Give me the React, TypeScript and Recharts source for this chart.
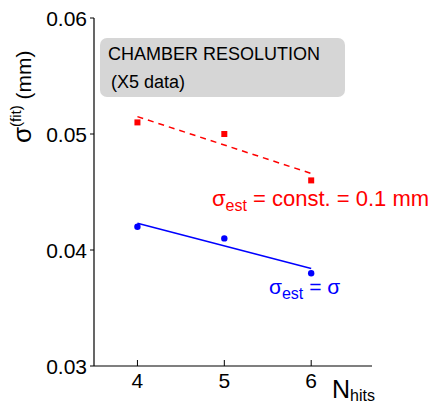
import React from "react";
import { ComposedChart, XAxis, YAxis, Scatter, Line } from "recharts";

// N_hits on the x axis
const nHits = [4, 5, 6];
// sigma_fit (mm) with sigma_est = const. = 0.1 mm
const sigmaConst = [0.051, 0.05, 0.046];
// sigma_fit (mm) with sigma_est = sigma
const sigmaEst = [0.042, 0.041, 0.038];
// straight-line fits, evaluated at the first and last N_hits
const fitX = [4, 6];
const fitConst = [0.0515, 0.0466];
const fitEst = [0.0423, 0.0384];
const yTicks = [0.03, 0.04, 0.05, 0.06];

const FONT = "'Liberation Sans', Arial, Helvetica, sans-serif";
const RED = "#ff0000";
const BLUE = "#0000ff";

const constPts = nHits.map((x, i) => ({ x, y: sigmaConst[i] }));
const estPts = nHits.map((x, i) => ({ x, y: sigmaEst[i] }));
const constFit = fitX.map((x, i) => ({ x, y: fitConst[i] }));
const estFit = fitX.map((x, i) => ({ x, y: fitEst[i] }));

const XTick = (props: any) => {
  const { x, y, payload } = props;
  return (
    <g>
      <line x1={x} y1={y} x2={x} y2={y - 6} stroke="#000" strokeWidth={1} />
      <text x={x} y={y + 22} textAnchor="middle" fontSize={21} fontFamily={FONT} fill="#000">
        {payload.value}
      </text>
    </g>
  );
};

const YTick = (props: any) => {
  const { x, y, payload } = props;
  return (
    <g>
      <line x1={x - 4} y1={y} x2={x} y2={y} stroke="#000" strokeWidth={1} />
      <text x={x - 7} y={y} dy="0.36em" textAnchor="end" fontSize={21} fontFamily={FONT} fill="#000">
        {Number(payload.value).toFixed(2)}
      </text>
    </g>
  );
};

const Square = (props: any) => {
  const { cx, cy } = props;
  return <rect x={cx - 3} y={cy - 3} width={6} height={6} fill={RED} />;
};

const Dot = (props: any) => {
  const { cx, cy } = props;
  return <circle cx={cx} cy={cy} r={3.2} fill={BLUE} />;
};

export default function App() {
  return (
    <div style={{ position: "absolute", left: 0, top: 0, width: 429, height: 406, background: "#fff" }}>
      <ComposedChart width={429} height={406} margin={{ top: 18, right: 57, bottom: 0, left: 0 }}>
        <XAxis
          type="number"
          dataKey="x"
          domain={[3.5, 6.7]}
          ticks={nHits}
          allowDataOverflow
          height={40}
          tickSize={0}
          tickMargin={0}
          tickLine={false}
          tick={<XTick />}
          axisLine={{ stroke: "#000", strokeWidth: 1.2 }}
        />
        <YAxis
          type="number"
          dataKey="y"
          domain={[0.03, 0.06]}
          ticks={yTicks}
          allowDataOverflow
          width={94}
          tickSize={0}
          tickMargin={0}
          tickLine={false}
          tick={<YTick />}
          axisLine={{ stroke: "#000", strokeWidth: 1.2 }}
        />
        <Line
          data={constFit}
          dataKey="y"
          stroke={RED}
          strokeWidth={1.5}
          strokeDasharray="6 5"
          dot={false}
          activeDot={false}
          isAnimationActive={false}
        />
        <Line
          data={estFit}
          dataKey="y"
          stroke={BLUE}
          strokeWidth={1.5}
          dot={false}
          activeDot={false}
          isAnimationActive={false}
        />
        <Scatter data={constPts} shape={<Square />} isAnimationActive={false} />
        <Scatter data={estPts} shape={<Dot />} isAnimationActive={false} />
      </ComposedChart>
      <svg
        width={429}
        height={406}
        style={{ position: "absolute", left: 0, top: 0, pointerEvents: "none" }}
        fontFamily={FONT}
      >
        <rect x={100} y={38} width={245} height={59} rx={7} fill="#d6d6d6" />
        <text x={108} y={60} fontSize={18} fill="#000">CHAMBER RESOLUTION</text>
        <text x={111} y={88} fontSize={18} fill="#000">(X5 data)</text>
        <text transform="translate(31, 143) rotate(-90)" fontSize={26} fill="#000">
          σ
          <tspan dy={-10} fontSize={15}>(fit)</tspan>
          <tspan dy={10} fontSize={21}>{"  (mm)"}</tspan>
        </text>
        <text x={332} y={398} fontSize={25} fill="#000">
          N<tspan dy={3} fontSize={16}>hits</tspan>
        </text>
        <text x={212} y={206} fontSize={22} fill={RED}>
          σ<tspan dy={5} fontSize={16}>est</tspan>
          <tspan dy={-5}>{" = const. = 0.1 mm"}</tspan>
        </text>
        <text x={269} y={294} fontSize={21} fill={BLUE}>
          σ<tspan dy={5} fontSize={16}>est</tspan>
          <tspan dy={-5}>{" = σ"}</tspan>
        </text>
      </svg>
    </div>
  );
}
